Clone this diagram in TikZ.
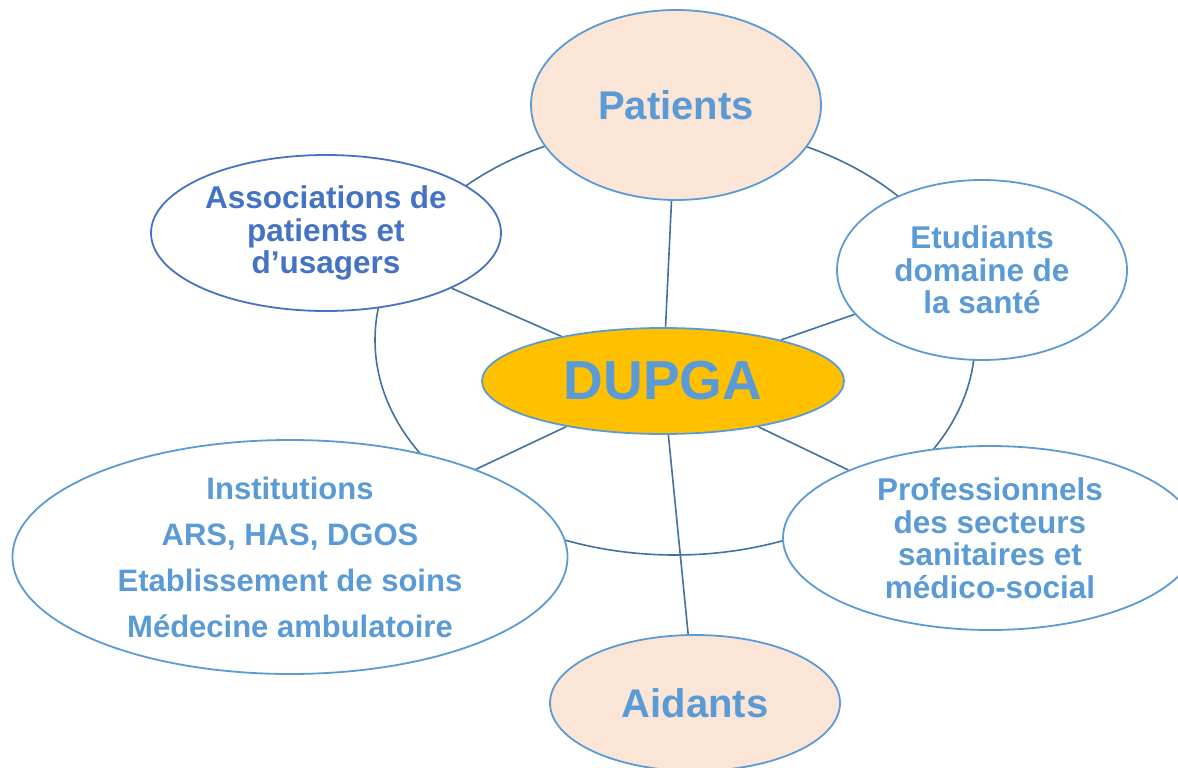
\documentclass[tikz,border=0pt]{standalone}
\usepackage{fontspec}
\setmainfont{Liberation Sans}
\usetikzlibrary{shapes.geometric,backgrounds}
\definecolor{txtblue}{HTML}{5B9BD5}
\definecolor{darkblue}{HTML}{4472C4}
\definecolor{linec}{HTML}{41719C}
\definecolor{peach}{HTML}{FBE5D6}
\definecolor{gold}{HTML}{FFC000}
\begin{document}
\begin{tikzpicture}[x=1pt,y=-1pt,
  oval/.style={ellipse, draw=txtblue, line width=1.8pt, fill=white, inner sep=0pt, align=center, text=txtblue, font=\bfseries\fontsize{31.5}{32.5}\selectfont},
  spoke/.style={draw=linec, line width=1.6pt}]
\useasboundingbox (0,0) rectangle (1178,768);
\node[oval, fill=peach, minimum width=290pt, minimum height=190pt, font=\bfseries\fontsize{40}{44}\selectfont] (pat) at (676,105) {Patients};
\node[oval, draw=darkblue, text=darkblue, minimum width=350pt, minimum height=156pt] (asso) at (326,233) {Associations de\\patients et\\d’usagers};
\node[oval, minimum width=290pt, minimum height=180pt] (etu) at (982,270) {Etudiants\\domaine de\\la santé};
\node[oval, fill=gold, minimum width=362pt, minimum height=106pt, font=\bfseries\fontsize{55}{60}\selectfont] (dup) at (663,381) {DUPGA};
\node[oval, minimum width=555pt, minimum height=234pt, font=\bfseries\fontsize{31}{46}\selectfont] (inst) at (290,557) {Institutions\\ARS, HAS, DGOS\\Etablissement de soins\\Médecine ambulatoire};
\node[oval, minimum width=414pt, minimum height=184pt] (pro) at (990,538) {Professionnels\\des secteurs\\sanitaires et\\médico-social};
\node[oval, fill=peach, minimum width=290pt, minimum height=136pt, font=\bfseries\fontsize{40}{44}\selectfont] (aid) at (695,703) {Aidants};
\begin{scope}[on background layer]
\draw[spoke] (675,340) ellipse [x radius=300pt, y radius=215pt];
\draw[spoke] (dup) -- (pat);
\draw[spoke] (dup) -- (asso);
\draw[spoke] (dup) -- (etu);
\draw[spoke] (dup) -- (inst);
\draw[spoke] (dup) -- (pro);
\draw[spoke] (dup) -- (aid);
\end{scope}
\end{tikzpicture}
\end{document}
